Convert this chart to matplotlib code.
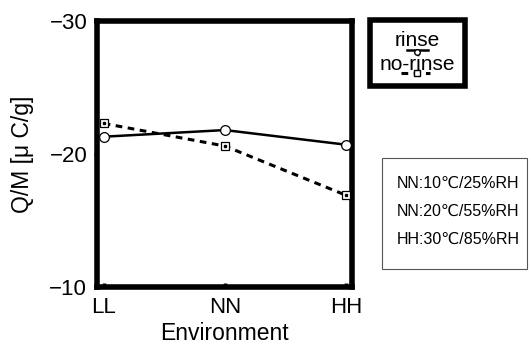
import matplotlib
matplotlib.use("Agg")
from matplotlib import pyplot as plt
from matplotlib.patches import Rectangle
from matplotlib.lines import Line2D

plt.rcParams['font.family'] = ['Liberation Sans', 'DejaVu Sans']

# datos
entornos = ["LL", "NN", "HH"]
rinse = [-21.3, -21.8, -20.7]
no_rinse = [-22.3, -20.6, -16.9]
condiciones = ["NN:10\u2103/25%RH", "NN:20\u2103/55%RH", "HH:30\u2103/85%RH"]

W, H = 529, 345
fig = plt.figure(figsize=(W / 100, H / 100), dpi=100)
ax = fig.add_axes([97 / W, 1 - 287 / H, 255 / W, 266 / H])

xs = list(range(len(entornos)))
ax.plot(xs, rinse, color="black", lw=1.8, marker="o", ms=7,
        mfc="white", mec="black", mew=0.9, zorder=3)
ax.plot(xs, no_rinse, color="black", lw=2.2, ls=(0, (2.2, 1.8)), marker="s", ms=6,
        mfc="white", mec="black", mew=0.9, zorder=3)
ax.plot(xs, no_rinse, ls="none", marker="s", ms=2, color="black", zorder=4)

ax.set_xlim(-0.055, 2.05)
ax.set_ylim(-30, -10)
ax.invert_yaxis()
ax.set_yticks([-30, -20, -10])
ax.set_xticks(xs)
ax.set_xticklabels(entornos)
for s in ax.spines.values():
    s.set_linewidth(4)
ax.tick_params(axis="x", direction="in", length=3, width=2.5, labelsize=16, pad=7)
ax.tick_params(axis="y", direction="out", length=2, width=2.5, labelsize=16, pad=5)
ax.set_xlabel("Environment", fontsize=16.5, labelpad=3)
ax.set_ylabel("Q/M [\u03bc C/g]", fontsize=16.5, labelpad=11)

# leyenda manual
fig.patches.append(Rectangle((370 / W, 1 - 86 / H), 95 / W, 66 / H, transform=fig.transFigure,
                             fill=False, lw=4, ec="black"))
fig.text(417 / W, 1 - 40 / H, "rinse", fontsize=15, ha="center", va="center")
fig.text(417 / W, 1 - 64 / H, "no-rinse", fontsize=15, ha="center", va="center")
fig.lines.append(Line2D([407 / W, 428 / W], [1 - 50 / H, 1 - 50 / H], transform=fig.transFigure,
                        color="black", lw=1.8))
fig.lines.append(Line2D([417 / W], [1 - 52 / H], transform=fig.transFigure, marker="o", ms=4,
                        mfc="white", mec="black"))
fig.lines.append(Line2D([401 / W, 430 / W], [1 - 73 / H, 1 - 73 / H], transform=fig.transFigure,
                        color="black", lw=2.2, ls=(0, (2.2, 1.8))))
fig.lines.append(Line2D([417 / W], [1 - 73 / H], transform=fig.transFigure, marker="s", ms=4,
                        mfc="white", mec="black"))

# cuadro de condiciones
fig.patches.append(Rectangle((382 / W, 1 - 269 / H), 145 / W, 111 / H, transform=fig.transFigure,
                             fill=False, lw=0.8, ec="#555555"))
for i, c in enumerate(condiciones):
    fig.text(397 / W, 1 - (183 + 28 * i) / H, c, fontsize=11.5, ha="left", va="center")

plt.savefig("out.png", dpi=100)
